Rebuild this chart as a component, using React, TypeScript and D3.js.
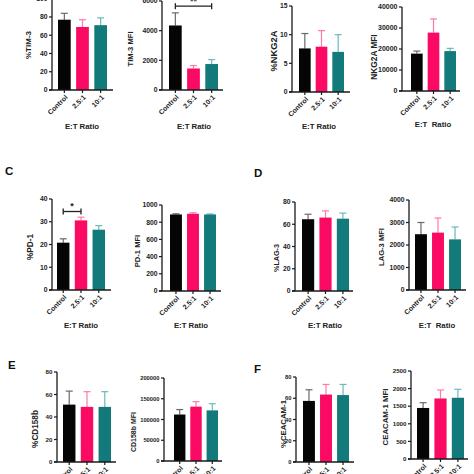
import React from "react";
import * as d3 from "d3";

const categories = ["Control", "2.5:1", "10:1"];
const colors = ["#050505", "#fb0a64", "#127a7a"];
const errColors = ["#6a6a6a", "#ff7aa6", "#6cb9b9"];

const tim3Pct = [77, 69, 71];
const tim3PctSd = [7, 8, 8];
const tim3PctTicks = [0, 20, 40, 60, 80, 100];

const tim3Mfi = [4350, 1450, 1750];
const tim3MfiSd = [850, 200, 300];
const tim3MfiTicks = [0, 2000, 4000, 6000];

const nkg2aPct = [7.6, 7.9, 7.0];
const nkg2aPctSd = [2.6, 2.8, 3.0];
const nkg2aPctTicks = [0, 5, 10, 15];

const nkg2aMfi = [17800, 27800, 19000];
const nkg2aMfiSd = [1200, 6500, 1300];
const nkg2aMfiTicks = [0, 10000, 20000, 30000, 40000];

const pd1Pct = [20.8, 30.6, 26.5];
const pd1PctSd = [1.7, 1.4, 1.8];
const pd1PctTicks = [0, 10, 20, 30, 40];

const pd1Mfi = [890, 898, 890];
const pd1MfiSd = [8, 12, 6];
const pd1MfiTicks = [0, 200, 400, 600, 800, 1000];

const lag3Pct = [64.5, 66, 65];
const lag3PctSd = [4.5, 6, 5];
const lag3PctTicks = [0, 20, 40, 60, 80];

const lag3Mfi = [2480, 2550, 2250];
const lag3MfiSd = [520, 650, 550];
const lag3MfiTicks = [0, 1000, 2000, 3000, 4000];

const cd158bPct = [51, 49, 49];
const cd158bPctSd = [12, 13.5, 13.5];
const cd158bPctTicks = [0, 20, 40, 60, 80];

const cd158bMfi = [112000, 131000, 122000];
const cd158bMfiSd = [12000, 12000, 16000];
const cd158bMfiTicks = [0, 50000, 100000, 150000, 200000];

const ceacamPct = [57.5, 63.5, 63];
const ceacamPctSd = [10.5, 9.5, 10];
const ceacamPctTicks = [0, 20, 40, 60, 80];

const ceacamMfi = [1450, 1720, 1740];
const ceacamMfiSd = [150, 240, 240];
const ceacamMfiTicks = [0, 500, 1000, 1500, 2000, 2500];

const FONT = "'Liberation Sans', Arial, sans-serif";

type PanelProps = {
  values: number[];
  sd: number[];
  ticks: number[];
  label: string;
  x0: number;
  x1: number;
  b0: number;
  b1: number;
  yBottom: number;
  yTop: number;
  labelX: number;
  labelY: number;
  labelSize: number;
  tickSize?: number;
  titleX?: number;
  titleY?: number;
  title?: string;
  sig?: { from: number; to: number; text: string; level: number };
};

function Panel(p: PanelProps) {
  const max = p.ticks[p.ticks.length - 1];
  const y = d3.scaleLinear().domain([0, max]).range([p.yBottom, p.yTop]);
  const x = d3
    .scaleBand<string>()
    .domain(categories)
    .range([p.b0, p.b1])
    .paddingInner(0.3)
    .paddingOuter(0);
  const bw = x.bandwidth();
  const cx = (c: string) => (x(c) as number) + bw / 2;
  const ts = p.tickSize ?? 6.8;
  return (
    <g>
      {categories.map((c, i) => {
        const top = y(p.values[i] + p.sd[i]);
        const v = y(p.values[i]);
        return (
          <g key={c}>
            <line x1={cx(c)} x2={cx(c)} y1={v} y2={top} stroke={errColors[i]} strokeWidth={1.2} />
            <line x1={cx(c) - 3.5} x2={cx(c) + 3.5} y1={top} y2={top} stroke={errColors[i]} strokeWidth={1.2} />
            <rect x={x(c)} y={v} width={bw} height={p.yBottom - v} fill={colors[i]} />
          </g>
        );
      })}
      <line x1={p.x0} x2={p.x0} y1={p.yBottom} y2={y(max)} stroke="#1a1a1a" strokeWidth={1.3} />
      {p.ticks.map((t) => (
        <g key={t}>
          <line x1={p.x0 - 3} x2={p.x0} y1={y(t)} y2={y(t)} stroke="#1a1a1a" strokeWidth={1.2} />
          <text
            x={p.x0 - 4.5}
            y={y(t)}
            dy="0.35em"
            textAnchor="end"
            fontSize={ts}
            fontWeight="bold"
            fontFamily={FONT}
            fill="#222"
          >
            {String(t)}
          </text>
        </g>
      ))}
      <line x1={p.x0 - 3} x2={p.x1} y1={p.yBottom} y2={p.yBottom} stroke="#1a1a1a" strokeWidth={1.3} />
      {categories.map((c) => (
        <g key={c}>
          <line x1={cx(c)} x2={cx(c)} y1={p.yBottom} y2={p.yBottom + 3} stroke="#1a1a1a" strokeWidth={1.2} />
          <text
            transform={`translate(${cx(c) + 2},${p.yBottom + 6}) rotate(-45)`}
            textAnchor="end"
            dy="0.35em"
            fontSize={7}
            fontWeight="bold"
            fontFamily={FONT}
            fill="#222"
          >
            {c}
          </text>
        </g>
      ))}
      <text
        transform={`translate(${p.labelX},${p.labelY}) rotate(-90)`}
        textAnchor="middle"
        dy="0.35em"
        fontSize={p.labelSize}
        fontWeight="bold"
        fontFamily={FONT}
        fill="#222"
      >
        {p.label}
      </text>
      {p.titleX !== undefined && (
        <text
          x={p.titleX}
          y={p.titleY}
          dy="0.35em"
          textAnchor="middle"
          fontSize={7.8}
          fontWeight="bold"
          fontFamily={FONT}
          fill="#222"
          style={{ whiteSpace: "pre" }}
        >
          {p.title ?? "E:T Ratio"}
        </text>
      )}
      {p.sig && (
        <g>
          <line
            x1={cx(categories[p.sig.from])}
            x2={cx(categories[p.sig.to])}
            y1={y(p.sig.level)}
            y2={y(p.sig.level)}
            stroke="#222"
            strokeWidth={1.3}
          />
          <line
            x1={cx(categories[p.sig.from])}
            x2={cx(categories[p.sig.from])}
            y1={y(p.sig.level) - 3}
            y2={y(p.sig.level) + 3}
            stroke="#222"
            strokeWidth={1.3}
          />
          <line
            x1={cx(categories[p.sig.to])}
            x2={cx(categories[p.sig.to])}
            y1={y(p.sig.level) - 3}
            y2={y(p.sig.level) + 3}
            stroke="#222"
            strokeWidth={1.3}
          />
          <text
            x={(cx(categories[p.sig.from]) + cx(categories[p.sig.to])) / 2}
            y={y(p.sig.level) - 2.5}
            textAnchor="middle"
            fontSize={9}
            fontWeight="bold"
            fontFamily={FONT}
            fill="#222"
          >
            {p.sig.text}
          </text>
        </g>
      )}
    </g>
  );
}

function Letter({ x, y, t }: { x: number; y: number; t: string }) {
  return (
    <text x={x} y={y} fontSize={11.5} fontWeight="bold" fontFamily={FONT} fill="#111">
      {t}
    </text>
  );
}

export default function App() {
  return (
    <svg
      width={474}
      height={474}
      viewBox="0 0 474 474"
      style={{ position: "absolute", left: 0, top: 0, background: "#fff" }}
    >
      <rect width={474} height={474} fill="#fff" />
      <Panel values={tim3Pct} sd={tim3PctSd} ticks={tim3PctTicks} label="%TIM-3"
        x0={52} x1={113} b0={58} b1={107} yBottom={90} yTop={-1.3} labelX={28} labelY={45} labelSize={8}
        titleX={82} titleY={126.5} />
      <Panel values={tim3Mfi} sd={tim3MfiSd} ticks={tim3MfiTicks} label="TIM-3 MFI"
        x0={162} x1={223} b0={169} b1={218} yBottom={90} yTop={1} labelX={130} labelY={49} labelSize={7.6}
        titleX={194} titleY={126.5} sig={{ from: 0, to: 2, text: "**", level: 5650 }} />
      <Panel values={nkg2aPct} sd={nkg2aPctSd} ticks={nkg2aPctTicks} label="%NKG2A"
        x0={292} x1={350} b0={299} b1={344} yBottom={92} yTop={6} labelX={274} labelY={51} labelSize={9.3}
        titleX={319} titleY={126.5} />
      <Panel values={nkg2aMfi} sd={nkg2aMfiSd} ticks={nkg2aMfiTicks} label="NKG2A MFI"
        x0={402} x1={460} b0={411} b1={456} yBottom={91} yTop={7} labelX={374} labelY={57} labelSize={8.3}
        tickSize={7} titleX={433} titleY={124.5} title={"E:T  Ratio"} />

      <Letter x={5} y={175} t="C" />
      <Panel values={pd1Pct} sd={pd1PctSd} ticks={pd1PctTicks} label="%PD-1"
        x0={52} x1={111} b0={57} b1={105} yBottom={290} yTop={199} labelX={30} labelY={247} labelSize={8.2}
        titleX={81} titleY={325} sig={{ from: 0, to: 1, text: "*", level: 34.5 }} />
      <Panel values={pd1Mfi} sd={pd1MfiSd} ticks={pd1MfiTicks} label="PD-1 MFI"
        x0={162} x1={221} b0={170} b1={216} yBottom={291} yTop={205} labelX={137} labelY={251} labelSize={7.6}
        titleX={191} titleY={325} />

      <Letter x={254} y={177} t="D" />
      <Panel values={lag3Pct} sd={lag3PctSd} ticks={lag3PctTicks} label="%LAG-3"
        x0={295} x1={353} b0={302} b1={349} yBottom={291} yTop={202} labelX={276} labelY={258} labelSize={7.2}
        titleX={325} titleY={325} />
      <Panel values={lag3Mfi} sd={lag3MfiSd} ticks={lag3MfiTicks} label="LAG-3 MFI"
        x0={409} x1={466} b0={415} b1={461} yBottom={290} yTop={200} labelX={381} labelY={247} labelSize={7.6}
        titleX={437} titleY={325} title={"E:T  Ratio"} />

      <Letter x={8} y={369} t="E" />
      <Panel values={cd158bPct} sd={cd158bPctSd} ticks={cd158bPctTicks} label="%CD158b"
        x0={57} x1={116} b0={63} b1={111} yBottom={462} yTop={372} labelX={35} labelY={429} labelSize={8.2}
        tickSize={6.2} />
      <Panel values={cd158bMfi} sd={cd158bMfiSd} ticks={cd158bMfiTicks} label="CD158b MFI"
        x0={164} x1={222} b0={174} b1={218} yBottom={461} yTop={378} labelX={134} labelY={432} labelSize={7}
        tickSize={5.8} />

      <Letter x={254} y={373} t="F" />
      <Panel values={ceacamPct} sd={ceacamPctSd} ticks={ceacamPctTicks} label="%CEACAM-1"
        x0={296} x1={354} b0={303} b1={349} yBottom={462} yTop={377} labelX={283} labelY={424} labelSize={7.8}
        tickSize={5.8} />
      <Panel values={ceacamMfi} sd={ceacamMfiSd} ticks={ceacamMfiTicks} label="CEACAM-1 MFI"
        x0={411} x1={468} b0={417} b1={464} yBottom={459} yTop={371} labelX={385} labelY={417} labelSize={7.8}
        tickSize={6.2} />
    </svg>
  );
}
